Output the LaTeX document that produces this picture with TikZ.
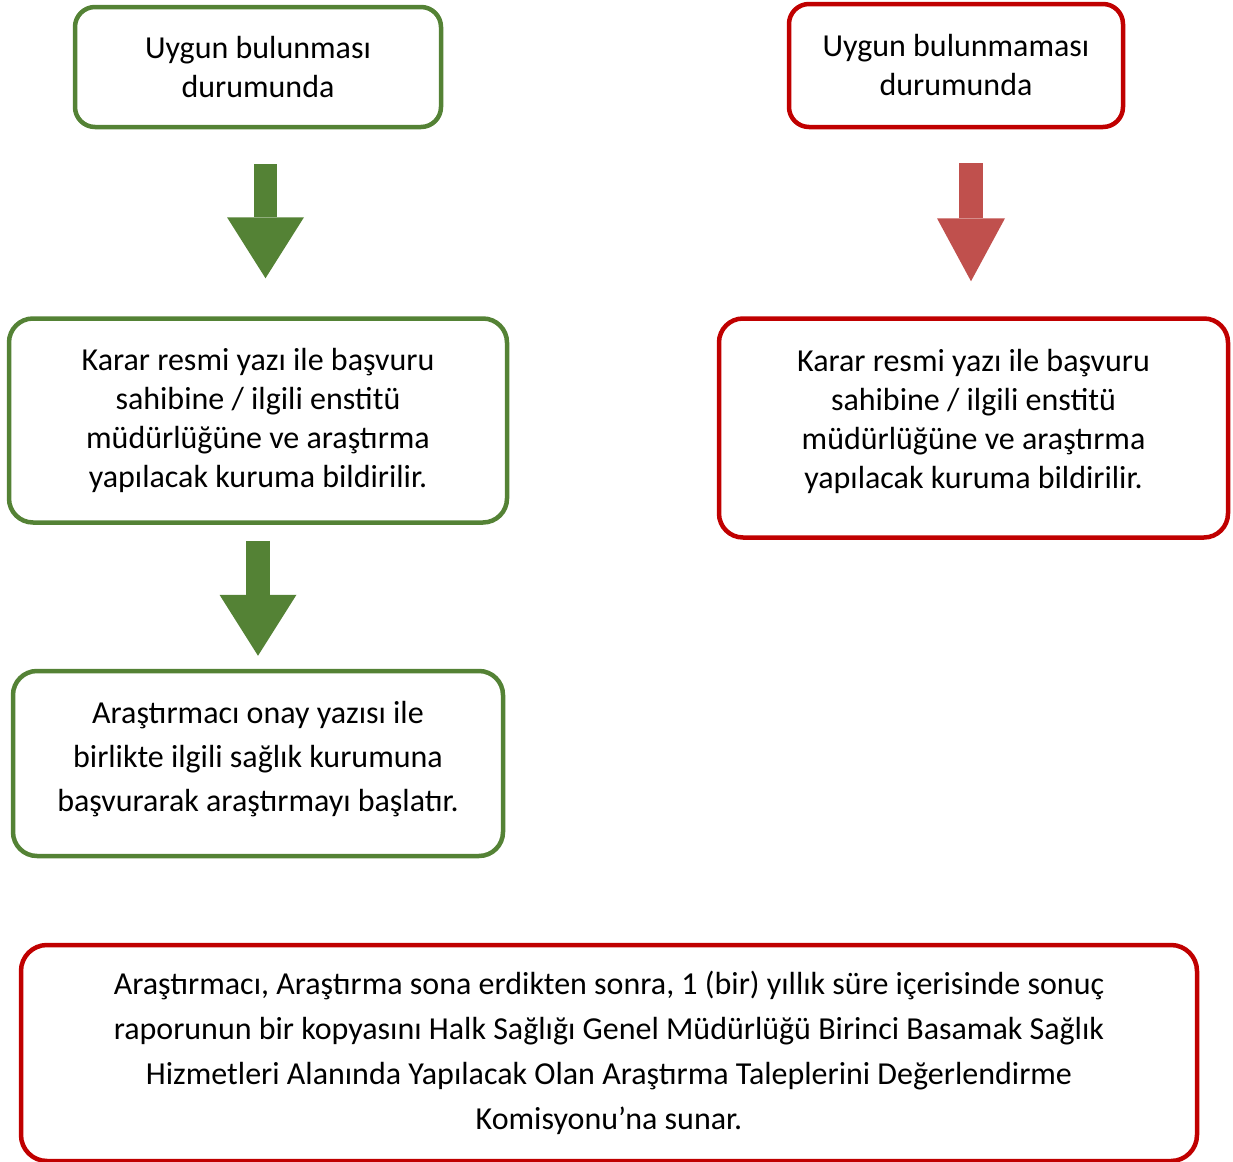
\documentclass[tikz,border=0pt]{standalone}
\usepackage{fontspec}
\setmainfont{Carlito}
\usetikzlibrary{positioning, arrows.meta}
\definecolor{okgreen}{HTML}{548235}
\definecolor{nored}{HTML}{C00000}
\definecolor{noarrow}{HTML}{C0504D}
\tikzstyle{okbox} = [rectangle, rounded corners=10pt, draw=okgreen, line width=2.25pt,
align=center, font=\fontsize{16}{19.5}\selectfont]
\tikzstyle{nobox} = [rectangle, rounded corners=10pt, draw=nored, line width=2.25pt,
align=center, font=\fontsize{16}{19.5}\selectfont]
\tikzstyle{okarrow} = [draw=okgreen, line width=11.5pt, -{Triangle[width=38.5pt, length=30.5pt, line width=0pt]}]
\tikzstyle{noarrow} = [draw=noarrow, line width=12pt, -{Triangle[width=34pt, length=31.5pt, line width=0pt]}]

\begin{document}
\begin{tikzpicture}

\useasboundingbox (0,0) rectangle (616.5pt,-581pt);

% ------------------------- nodes -------------------------

% ----- node: uygun
\node(u1)[okbox, minimum width=183pt, minimum height=60pt] at (129pt,-33.5pt) {Uygun bulunması\\durumunda};
\node(k1)[okbox, below=93.5pt of u1, minimum width=249pt, minimum height=102pt, rounded corners=12pt]{Karar resmi yazı ile başvuru\\sahibine / ilgili enstitü\\müdürlüğüne ve araştırma\\yapılacak kuruma bildirilir.};
\node(a1)[okbox, below=72pt of k1, minimum width=245pt, minimum height=92.5pt, rounded corners=12pt, font=\fontsize{16}{22}\selectfont, text depth=7pt]{Araştırmacı onay yazısı ile\\birlikte ilgili sağlık kurumuna\\başvurarak araştırmayı başlatır.};
% ----- node: uygun degil
\node(n1)[nobox, minimum width=167pt, minimum height=61.5pt] at (478pt,-32.75pt) {Uygun bulunmaması\\durumunda};
\node(k2)[nobox, below=93.5pt of n1, xshift=8.75pt, minimum width=254.5pt, minimum height=109.5pt, rounded corners=12pt, text depth=9pt]{Karar resmi yazı ile başvuru\\sahibine / ilgili enstitü\\müdürlüğüne ve araştırma\\yapılacak kuruma bildirilir.};
% ----- node: sonuc
\node(s1)[nobox, minimum width=588pt, minimum height=108pt, rounded corners=13pt, font=\fontsize{16}{22.5}\selectfont] at (304.5pt,-526.5pt) {Araştırmacı, Araştırma sona erdikten sonra, 1 (bir) yıllık süre içerisinde sonuç\\raporunun bir kopyasını Halk Sağlığı Genel Müdürlüğü Birinci Basamak Sağlık\\Hizmetleri Alanında Yapılacak Olan Araştırma Taleplerini Değerlendirme\\Komisyonu’na sunar.};

% ------------------------- connections -------------------------
\draw[okarrow, shorten <=17.5pt, shorten >=19pt]([xshift=3.75pt]u1.south)--([xshift=3.75pt]u1.south |- k1.north);
\draw[okarrow, line width=12pt, shorten <=8pt, shorten >=6.5pt](k1.south)--(k1.south |- a1.north);
\draw[noarrow, shorten <=17pt, shorten >=17.5pt]([xshift=7.5pt]n1.south)--([xshift=7.5pt]n1.south |- k2.north);

\end{tikzpicture}
\end{document}
